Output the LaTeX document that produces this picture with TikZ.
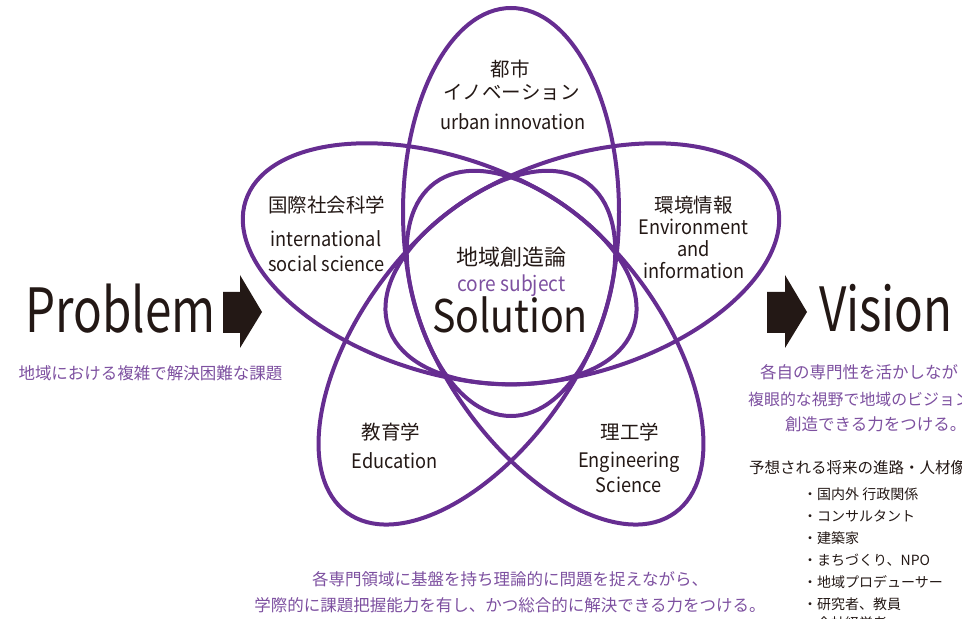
\documentclass[tikz,border=0pt]{standalone}
\usepackage{fontspec}
\setmainfont{Noto Sans CJK JP}
\usepackage{tikz}
\usetikzlibrary{calc}
\definecolor{petalc}{HTML}{662D91}
\definecolor{notec}{HTML}{7D50A0}
\definecolor{inkc}{HTML}{231815}

\begin{document}
\begin{tikzpicture}[x=1pt,y=1pt,
    inner sep=0pt,
    petal/.style={draw=petalc,line width=4pt},
    fieldn/.style={text=inkc,font=\fontsize{19.5}{21.5}\selectfont},
    latinn/.style={text=inkc,font=\fontsize{20}{21.5}\selectfont,anchor=base,xscale=0.91},
    noten/.style={text=notec,font=\fontsize{16.5}{20}\selectfont},
    bign/.style={text=inkc,font=\fontsize{61}{61}\selectfont,anchor=base,xscale=0.78},
    itemn/.style={text=inkc,font=\fontsize{14}{16}\selectfont,anchor=west}]
  \useasboundingbox (0,0) rectangle (962,619);
  \coordinate (C) at (511,332);
  \draw[petal] ($(C)+(90:75)$) ellipse [x radius=204pt, y radius=108pt, rotate=90];
  \draw[petal] ($(C)+(162:75)$) ellipse [x radius=204pt, y radius=108pt, rotate=162];
  \draw[petal] ($(C)+(234:75)$) ellipse [x radius=204pt, y radius=108pt, rotate=234];
  \draw[petal] ($(C)+(306:75)$) ellipse [x radius=204pt, y radius=108pt, rotate=306];
  \draw[petal] ($(C)+(18:75)$) ellipse [x radius=204pt, y radius=108pt, rotate=18];

  \node[fieldn] (urbanj) at (510,550) {都市};
  \node[fieldn] (urbank) at (511.5,527) {イノベーション};
  \node[latinn] (urbane) at (513,489) {urban innovation};
  \node[fieldn] (socj) at (326.5,414) {国際社会科学};
  \node[latinn] (soce1) at (326,372) {international};
  \node[latinn] (soce2) at (326.5,347) {social science};
  \node[fieldn] (envj) at (693.5,414) {環境情報};
  \node[latinn] (enve1) at (693.5,384) {Environment};
  \node[latinn] (enve2) at (693.5,362.3) {and};
  \node[latinn] (enve3) at (694,340.7) {information};
  \node[fieldn] (eduj) at (391,187) {教育学};
  \node[latinn] (edue) at (394.5,150) {Education};
  \node[fieldn] (engj) at (630,187) {理工学};
  \node[latinn] (enge1) at (629,151) {Engineering};
  \node[latinn] (enge2) at (628.5,126) {Science};

  \node[text=inkc,font=\fontsize{22}{24}\selectfont] (corej) at (511,361.5) {地域創造論};
  \node[text=notec,font=\fontsize{21}{24}\selectfont,anchor=base,xscale=0.91] (coree) at (511.5,327) {core subject};
  \node[text=inkc,font=\fontsize{45}{45}\selectfont,anchor=base,xscale=0.875] (solution) at (510,286) {Solution};

  \node[bign] (problem) at (120.5,286) {Problem};
  \fill[inkc] (223,327) -- (240,327) -- (240,344) -- (262,307) -- (240,271) -- (240,286) -- (223,286) -- cycle;
  \node[noten] (probnote) at (150.5,246) {地域における複雑で解決困難な課題};

  \node[bign] (vision) at (886,287) {Vision};
  \fill[inkc] (767,327) -- (785,327) -- (785,344) -- (807,307) -- (785,271) -- (785,286) -- (767,286) -- cycle;
  \node[noten,anchor=west] (visnote1) at (760,247) {各自の専門性を活かしなが};
  \node[noten,anchor=west,font=\fontsize{15.9}{20}\selectfont] (visnote2) at (748,220) {複眼的な視野で地域のビジョン};
  \node[noten,anchor=west] (visnote3) at (785,195) {創造できる力をつける。};

  \node[text=inkc,font=\fontsize{15.5}{18}\selectfont,anchor=west] (career) at (749,151) {予想される将来の進路・人材像};
  \node[itemn] (item1) at (803,125) {・国内外 行政関係};
  \node[itemn] (item2) at (803,103) {・コンサルタント};
  \node[itemn] (item3) at (803,81) {・建築家};
  \node[itemn] (item4) at (803,59) {・まちづくり、NPO};
  \node[itemn] (item5) at (803,37) {・地域プロデューサー};
  \node[itemn] (item6) at (803,15) {・研究者、教員};
  \node[itemn] (item7) at (803,-4) {・会社経営者};

  \node[noten] (aim1) at (510,40) {各専門領域に基盤を持ち理論的に問題を捉えながら、};
  \node[noten] (aim2) at (510,14) {学際的に課題把握能力を有し、かつ総合的に解決できる力をつける。};
\end{tikzpicture}
\end{document}
